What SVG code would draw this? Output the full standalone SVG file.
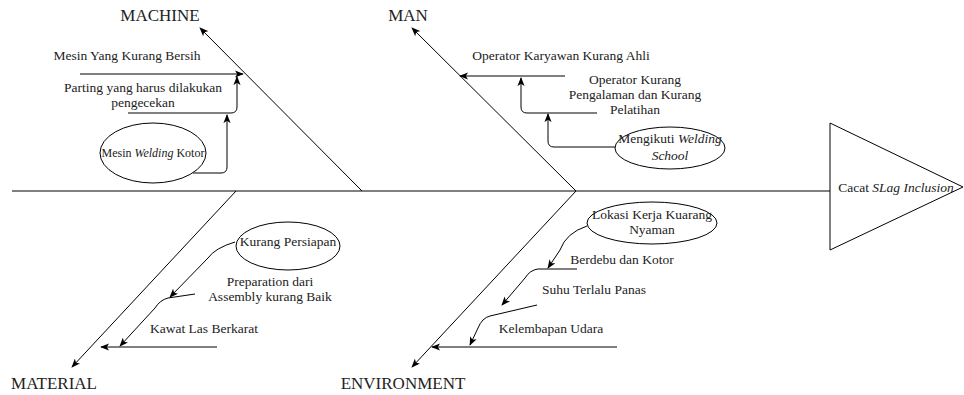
<svg xmlns="http://www.w3.org/2000/svg" width="964" height="395" viewBox="0 0 964 395">
<defs>
<marker id="arr" viewBox="0 0 10 8" refX="9" refY="4" markerWidth="9" markerHeight="7.2" markerUnits="userSpaceOnUse" orient="auto">
<path d="M0,0 L10,4 L0,8 L2.5,4 z" fill="#000"/>
</marker>
</defs>
<style>
.ln{fill:none;stroke:#000;stroke-width:1}
.ar{fill:none;stroke:#000;stroke-width:1;marker-end:url(#arr)}
.t{font-family:'Liberation Serif',serif;font-size:13.5px;fill:#222;text-anchor:middle}
.s{font-size:12px}
.h{font-family:'Liberation Serif',serif;font-size:17px;fill:#222;text-anchor:middle}
.sh{fill:#fff;stroke:#000;stroke-width:1}
.i{font-style:italic}
</style>
<rect width="964" height="395" fill="#fff"/>
<g id="connectors">
<line class="ln" x1="12" y1="191" x2="830" y2="191"/>
<path class="ar" d="M362,191 L200,28"/>
<path class="ar" d="M576,191 L412,28"/>
<path class="ar" d="M236,191 L72,367"/>
<path class="ar" d="M576,191 L412,367"/>
<path class="ar" d="M80,74 L243,74"/>
<path class="ar" d="M128,113 L231,113 Q237,113 237,107 L237,77"/>
<path class="ar" d="M193,173 L221,173 Q227,173 227,167 L227,115"/>
<path class="ar" d="M565,76 L460,76"/>
<path class="ar" d="M597,113 L527,113 Q521,113 521,107 L521,78"/>
<path class="ar" d="M615,147 L554,147 Q548,147 548,141 L548,114"/>
<path class="ar" d="M235,242 Q215,248 208,258 L170,297"/>
<path class="ar" d="M195,294 L168,298 Q160,300 155,308 L120,346"/>
<path class="ar" d="M217,347 L101,347"/>
<path class="ar" d="M587,226 Q566,233 560,250 L548,268"/>
<path class="ar" d="M577,269 L538,269 Q530,270 525,278 L502,305"/>
<path class="ar" d="M537,305 L490,316 Q482,318 478,328 L470,345"/>
<path class="ar" d="M617,347 L432,347"/>
</g>
<g id="head">
<path class="sh" d="M830,123 L963,187 L830,250 Z"/>
<text class="t" font-family="'Liberation Serif', serif" x="896" y="192">Cacat <tspan class="i">SLag Inclusion</tspan></text>
</g>
<g id="machine"><text class="h" font-family="'Liberation Serif', serif" x="160" y="21">MACHINE</text></g>
<g id="man"><text class="h" font-family="'Liberation Serif', serif" x="408" y="21">MAN</text></g>
<g id="material"><text class="h" font-family="'Liberation Serif', serif" x="54" y="389">MATERIAL</text></g>
<g id="environment"><text class="h" font-family="'Liberation Serif', serif" x="403" y="389">ENVIRONMENT</text></g>
<g id="m1"><text class="t" font-family="'Liberation Serif', serif" x="127" y="60">Mesin Yang Kurang Bersih</text></g>
<g id="m2"><text class="t" font-family="'Liberation Serif', serif" x="143" y="92">Parting yang harus dilakukan</text><text class="t" font-family="'Liberation Serif', serif" x="143" y="107">pengecekan</text></g>
<g id="m3"><ellipse class="sh" cx="153" cy="153" rx="53" ry="30"/><text class="t s" font-family="'Liberation Serif', serif" x="153" y="157">Mesin <tspan class="i">Welding</tspan> Kotor</text></g>
<g id="p1"><text class="t" font-family="'Liberation Serif', serif" x="561" y="60">Operator Karyawan Kurang Ahli</text></g>
<g id="p2"><text class="t" font-family="'Liberation Serif', serif" x="635" y="84">Operator Kurang</text><text class="t" font-family="'Liberation Serif', serif" x="635" y="99">Pengalaman dan Kurang</text><text class="t" font-family="'Liberation Serif', serif" x="635" y="114">Pelatihan</text></g>
<g id="p3"><ellipse class="sh" cx="670" cy="148" rx="55" ry="21"/><text class="t" font-family="'Liberation Serif', serif" x="670" y="143">Mengikuti <tspan class="i">Welding</tspan></text><text class="t i" font-family="'Liberation Serif', serif" x="670" y="160">School</text></g>
<g id="a1"><ellipse class="sh" cx="288" cy="246" rx="52" ry="24"/><text class="t" font-family="'Liberation Serif', serif" x="288" y="246">Kurang Persiapan</text></g>
<g id="a2"><text class="t" font-family="'Liberation Serif', serif" x="270" y="286">Preparation dari</text><text class="t" font-family="'Liberation Serif', serif" x="270" y="301">Assembly kurang Baik</text></g>
<g id="a3"><text class="t" font-family="'Liberation Serif', serif" x="204" y="333">Kawat Las Berkarat</text></g>
<g id="e1"><ellipse class="sh" cx="652" cy="223" rx="65" ry="21"/><text class="t" font-family="'Liberation Serif', serif" x="652" y="219">Lokasi Kerja Kuarang</text><text class="t" font-family="'Liberation Serif', serif" x="652" y="234">Nyaman</text></g>
<g id="e2"><text class="t" font-family="'Liberation Serif', serif" x="622" y="264">Berdebu dan Kotor</text></g>
<g id="e3"><text class="t" font-family="'Liberation Serif', serif" x="594" y="294">Suhu Terlalu Panas</text></g>
<g id="e4"><text class="t" font-family="'Liberation Serif', serif" x="551" y="333">Kelembapan Udara</text></g>
</svg>
